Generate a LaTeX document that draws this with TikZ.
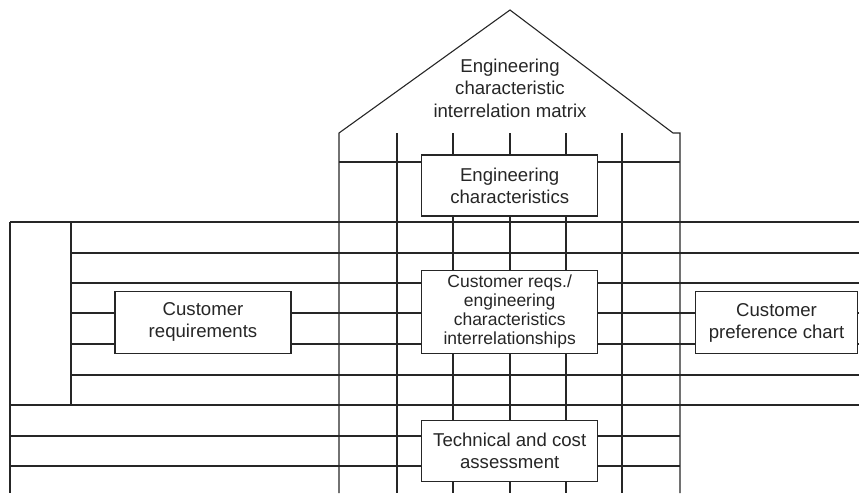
\documentclass[tikz,border=0pt]{standalone}
\usepackage{fontspec}
\setmainfont{Liberation Sans}
\begin{document}
\begin{tikzpicture}[x=1pt,y=-1pt,
  grid/.style={draw=black!85, line width=1.1pt},
  box/.style={draw=black!85, line width=1.1pt, fill=white, align=center, inner sep=0pt,
    text=black!85, font=\fontsize{18.6}{22}\selectfont},
  lbl/.style={align=center, text=black!85, font=\fontsize{18.6}{22.5}\selectfont}]
\useasboundingbox (0,0) rectangle (859,493);
% roof and walls
\draw[grid] (339,493) -- (339,133) -- (510,10) -- (673,133) -- (680,133) -- (680,493);
% vertical grid lines
\foreach \x in {397,453,510,566,622} \draw[grid] (\x,133) -- (\x,493);
\draw[grid] (10,222) -- (10,493);
\draw[grid] (71,222) -- (71,405);
% horizontal grid lines
\draw[grid] (339,162) -- (680,162);
\draw[grid] (10,222) -- (859,222);
\foreach \y in {253,283,313,344,375} \draw[grid] (71,\y) -- (859,\y);
\draw[grid] (10,405) -- (859,405);
\draw[grid] (10,436) -- (680,436);
\draw[grid] (10,466) -- (680,466);
% nodes
\node[lbl] (roof) at (510,88) {Engineering\\characteristic\\interrelation matrix};
\node[box, minimum width=176pt, minimum height=61pt] (ec) at (509.7,185.5) {Engineering\\characteristics};
\node[box, minimum width=176pt, minimum height=83.3pt, font=\fontsize{17.5}{19}\selectfont] (rel) at (509.7,311.7) {Customer reqs./\\engineering\\characteristics\\interrelationships};
\node[box, minimum width=176pt, minimum height=61pt] (tca) at (509.7,451.2) {Technical and cost\\assessment};
\node[box, minimum width=176pt, minimum height=62pt] (cr) at (203,322.3) {Customer\\requirements};
\node[box, minimum width=161.6pt, minimum height=61.6pt] (cpc) at (776.5,322.5) {Customer\\preference chart};
\end{tikzpicture}
\end{document}
